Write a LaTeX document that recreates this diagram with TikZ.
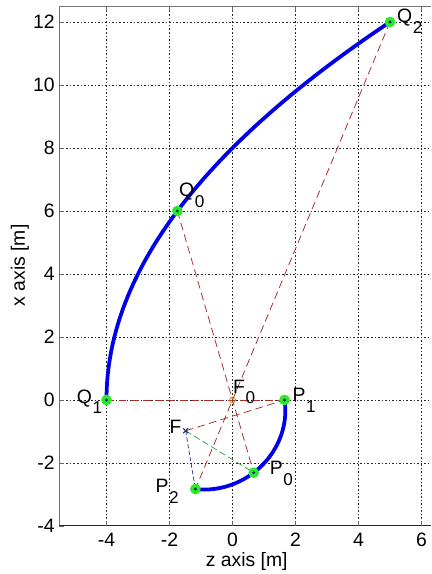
\documentclass[tikz,border=0pt]{standalone}
\usepackage{fontspec}
\setmainfont{Liberation Sans}
\newcommand{\lbl}[2]{#1\kern0.6pt\raisebox{-9.5pt}{\fontsize{15.5}{15.5}\selectfont #2}}
\definecolor{curveblue}{RGB}{0,0,235}
\definecolor{rayred}{RGB}{170,45,40}
\definecolor{raygreen}{RGB}{40,150,40}
\definecolor{raynavy}{RGB}{40,40,140}
\definecolor{markgreen}{RGB}{40,235,40}
\definecolor{markdot}{RGB}{20,20,120}
\definecolor{focolive}{RGB}{180,150,30}
\begin{document}
\begin{tikzpicture}[x=1cm,y=1cm,
  declare function={rr(\t)=5.3088/(2.47-0.89*cos(\t-213.3));},
  gridline/.style={black!85, line width=0.55pt, dash pattern=on 1.4pt off 1.8pt},
  axisline/.style={black!55, line width=0.8pt},
  baseaxis/.style={black!85, line width=0.9pt},
  tickmark/.style={black!60, line width=0.6pt},
  ticklabel/.style={inner sep=0pt, font=\fontsize{17.5}{20}\selectfont},
  axislabel/.style={inner sep=0pt, font=\fontsize{17.5}{20}\selectfont},
  ptlabel/.style={inner sep=0pt, anchor=base west, font=\fontsize{17.5}{20}\selectfont},
  ray/.style={draw=rayred, line width=0.7pt, dash pattern=on 7pt off 4pt},
  raygreen/.style={draw=raygreen, line width=0.6pt, dash pattern=on 6pt off 3pt},
  raynavy/.style={draw=raynavy, line width=0.6pt, dash pattern=on 4pt off 2pt},
  mirror/.style={draw=curveblue, line width=3.4pt},
  ptmark/.style={fill=markgreen},
  ptdot/.style={fill=markdot},
]
\useasboundingbox (-7.381,-5.524) rectangle (6.302,12.698);

% grid
\foreach \z in {-4,-2,0,2,4,6} \draw[gridline] (\z,-4) -- (\z,12.5);
\foreach \y in {-2,0,...,12} \draw[gridline] (-5.5,\y) -- (6.302,\y);

% axes
\draw[axisline] (-5.5,-4) -- (-5.5,12.5) -- (6.302,12.5);
\draw[baseaxis] (-5.5,-4) -- (6.302,-4);
\foreach \y in {-4,-2,...,12} \draw[tickmark] (-5.5,\y) -- (-5.34,\y);
\foreach \z in {-4,-2,0,2,4,6} {
  \draw[tickmark] (\z,-4) -- (\z,-3.84);
  \draw[tickmark] (\z,12.5) -- (\z,12.34);
}

% tick labels
\foreach \y in {-4,-2,0,2,4,6,8,10,12}
  \node[ticklabel, anchor=east] (yl\y) at (-5.64,\y) {\y};
\foreach \z in {-4,-2,0,2,4,6}
  \node[ticklabel, anchor=north] (xl\z) at (\z,-4.21) {\z};

\node[axislabel, anchor=base] (zlab) at (0.45,-5.27) {z axis [m]};
\node[axislabel, anchor=base, rotate=90] (xlab) at (-6.59,4.27) {x axis [m]};

% points
\coordinate (F0) at (0,0);
\coordinate (F) at (-1.4877,-0.9773);
\coordinate (Q1) at (-4,0);
\coordinate (Q0) at (-1.75,6);
\coordinate (Q2) at (5,12);
\coordinate (P1) at ({rr(0)},0);
\coordinate (P0) at ({rr(-73.74)*cos(-73.74)},{rr(-73.74)*sin(-73.74)});
\coordinate (P2) at ({rr(-112.62)*cos(-112.62)},{rr(-112.62)*sin(-112.62)});

% rays
\draw[ray] (Q1) -- (P1);
\draw[ray] (Q0) -- (P0);
\draw[ray] (Q2) -- (P2);
\draw[ray] (F) -- (P1);
\draw[raygreen] (F) -- (P0);
\draw[raynavy] (F) -- (P2);

% mirrors
\draw[mirror] plot[smooth, samples=80, domain=0:12] ({-4+\x*\x/16},\x);
\draw[mirror] plot[smooth, samples=60, domain=-112.62:0] ({rr(\x)*cos(\x)},{rr(\x)*sin(\x)});

% markers
\foreach \p in {Q0,Q1,Q2,P0,P1,P2} {
  \fill[ptmark] (\p) circle (0.17);
  \fill[ptdot] (\p) circle (0.05);
}
\draw[focolive, line width=0.7pt] (F0) circle (0.095);
\draw[raynavy, solid, line width=0.9pt] (F) ++(-0.08,-0.08) -- ++(0.16,0.16) (F) ++(-0.08,0.08) -- ++(0.16,-0.16);

% labels
\node[ptlabel] (lQ2) at (5.22,11.98) {\lbl{Q}{2}};
\node[ptlabel] (lQ0) at (-1.70,6.45) {\lbl{Q}{0}};
\node[ptlabel] (lQ1) at (-4.95,-0.11) {\lbl{Q}{1}};
\node[ptlabel] (lP1) at (1.90,-0.06) {\lbl{P}{1}};
\node[ptlabel] (lF0) at (0.01,0.22) {\lbl{F}{0}};
\node[ptlabel] (lP0) at (1.18,-2.38) {\lbl{P}{0}};
\node[ptlabel] (lF) at (-2.00,-1.05) {F};
\node[ptlabel] (lP2) at (-2.45,-2.95) {\lbl{P}{2}};
\end{tikzpicture}
\end{document}
